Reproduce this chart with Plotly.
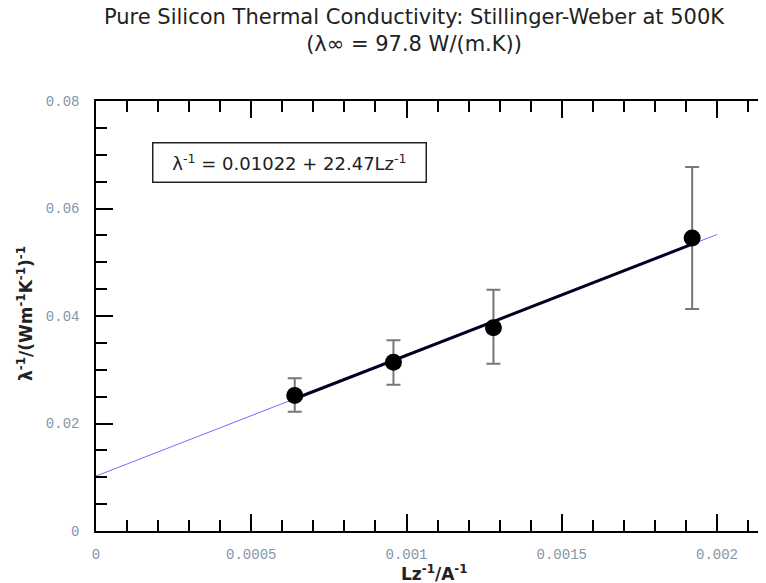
import plotly.graph_objects as go

# ---- data ----
lz_inv = [0.00064, 0.000958, 0.00128, 0.00192]
lam_inv = [0.0252, 0.0314, 0.0378, 0.0545]
err_plus = [0.0032, 0.0041, 0.0071, 0.0132]
err_minus = [0.0030, 0.0042, 0.0067, 0.0132]

fit_intercept = 0.01022
fit_slope = 22.47
fit_x_full = [0.0, 0.002]
fit_x_data = [0.00064, 0.00192]

x_tickvals = [0, 0.0005, 0.001, 0.0015, 0.002]
x_ticktext = ["0", "0.0005", "0.001", "0.0015", "0.002"]
y_tickvals = [0, 0.02, 0.04, 0.06, 0.08]
y_ticktext = ["0", "0.02", "0.04", "0.06", "0.08"]

fit_y_full = [fit_intercept + fit_slope * x for x in fit_x_full]
fit_y_data = [fit_intercept + fit_slope * x for x in fit_x_data]

# page body has an 8px margin
OFF = 8
W, H = 766 - OFF, 583 - OFF
L, T, B, R = 96 - OFF, 101 - OFF, 52, 0
pw = W - L - R
ph = H - T - B


def px(xv):  # viewport x -> paper fraction
    return (xv - OFF - L) / pw


def py(yv):  # viewport y -> paper fraction
    return (H - B - (yv - OFF)) / ph


fig = go.Figure()
fig.add_trace(go.Scatter(x=fit_x_full, y=fit_y_full, mode="lines",
                         line=dict(color="#7070ff", width=1), hoverinfo="skip"))
fig.add_trace(go.Scatter(x=fit_x_data, y=fit_y_data, mode="lines",
                         line=dict(color="#000022", width=3), hoverinfo="skip"))
fig.add_trace(go.Scatter(x=lz_inv, y=lam_inv, mode="markers",
                         marker=dict(color="black", size=17),
                         error_y=dict(type="data", array=err_plus, arrayminus=err_minus,
                                      color="#777777", thickness=2, width=7)))
# right-side partial ticks
fig.add_trace(go.Scatter(x=fit_x_full, y=fit_y_full, mode="lines", yaxis="y2",
                         line=dict(width=0), opacity=0, hoverinfo="skip"))

tickfont = dict(family="Liberation Mono", size=14, color="#8494a8")

fig.update_layout(
    width=W, height=H,
    margin=dict(l=L, r=R, t=T, b=B),
    paper_bgcolor="white", plot_bgcolor="white",
    showlegend=False,
    xaxis=dict(range=[0, 0.0005 * pw / 155.25], showgrid=False, zeroline=False,
               showline=True, linecolor="black", linewidth=1.5, mirror="ticks",
               ticks="inside", ticklen=17, tickwidth=1.5, tickcolor="black",
               tickvals=x_tickvals, ticktext=x_ticktext, tickfont=tickfont,
               ticklabelstandoff=9,
               minor=dict(ticks="inside", ticklen=11, tickwidth=1.5, tickcolor="black",
                          dtick=0.0001, tick0=0, showgrid=False)),
    yaxis=dict(range=[0, 0.08], showgrid=False, zeroline=False,
               showline=True, linecolor="black", linewidth=1.5, mirror=False,
               ticks="inside", ticklen=17, tickwidth=1.5, tickcolor="black",
               tickvals=y_tickvals, ticktext=y_ticktext, tickfont=tickfont,
               ticklabelstandoff=12,
               minor=dict(ticks="inside", ticklen=11, tickwidth=1.5, tickcolor="black",
                          dtick=0.005, tick0=0, showgrid=False)),
    yaxis2=dict(range=[0, 0.08], overlaying="y", side="right", showgrid=False,
                zeroline=False, showline=False, showticklabels=False,
                ticks="inside", ticklen=5, tickwidth=1.5, tickcolor="black",
                tickvals=[0.02, 0.04, 0.06]),
    annotations=[
        dict(text="Pure Silicon Thermal Conductivity: Stillinger-Weber at 500K<br>(λ∞ = 97.8 W/(m.K))",
             xref="paper", yref="paper", x=px(414), y=py(31),
             xanchor="center", yanchor="middle", showarrow=False,
             font=dict(family="DejaVu Sans", size=21, color="#222222")),
        dict(text="λ<sup>-1</sup> = 0.01022 + 22.47Lz<sup>-1</sup>",
             xref="paper", yref="paper", x=px(152), y=py(142),
             xanchor="left", yanchor="top", showarrow=False,
             width=268, height=34, borderpad=2, borderwidth=1.5, bordercolor="#222222",
             font=dict(family="DejaVu Sans", size=18, color="#222222")),
        dict(text="<b>λ<sup>-1</sup>/(Wm<sup>-1</sup>K<sup>-1</sup>)<sup>-1</sup></b>",
             xref="paper", yref="paper", x=px(25), y=py(314),
             xanchor="center", yanchor="middle", textangle=-90, showarrow=False,
             font=dict(family="DejaVu Sans", size=17, color="#222222")),
        dict(text="<b>Lz<sup>-1</sup>/A<sup>-1</sup></b>",
             xref="paper", yref="paper", x=px(435), y=py(573),
             xanchor="center", yanchor="middle", showarrow=False,
             font=dict(family="DejaVu Sans", size=17, color="#222222")),
    ],
)

fig.write_html("out.html")
